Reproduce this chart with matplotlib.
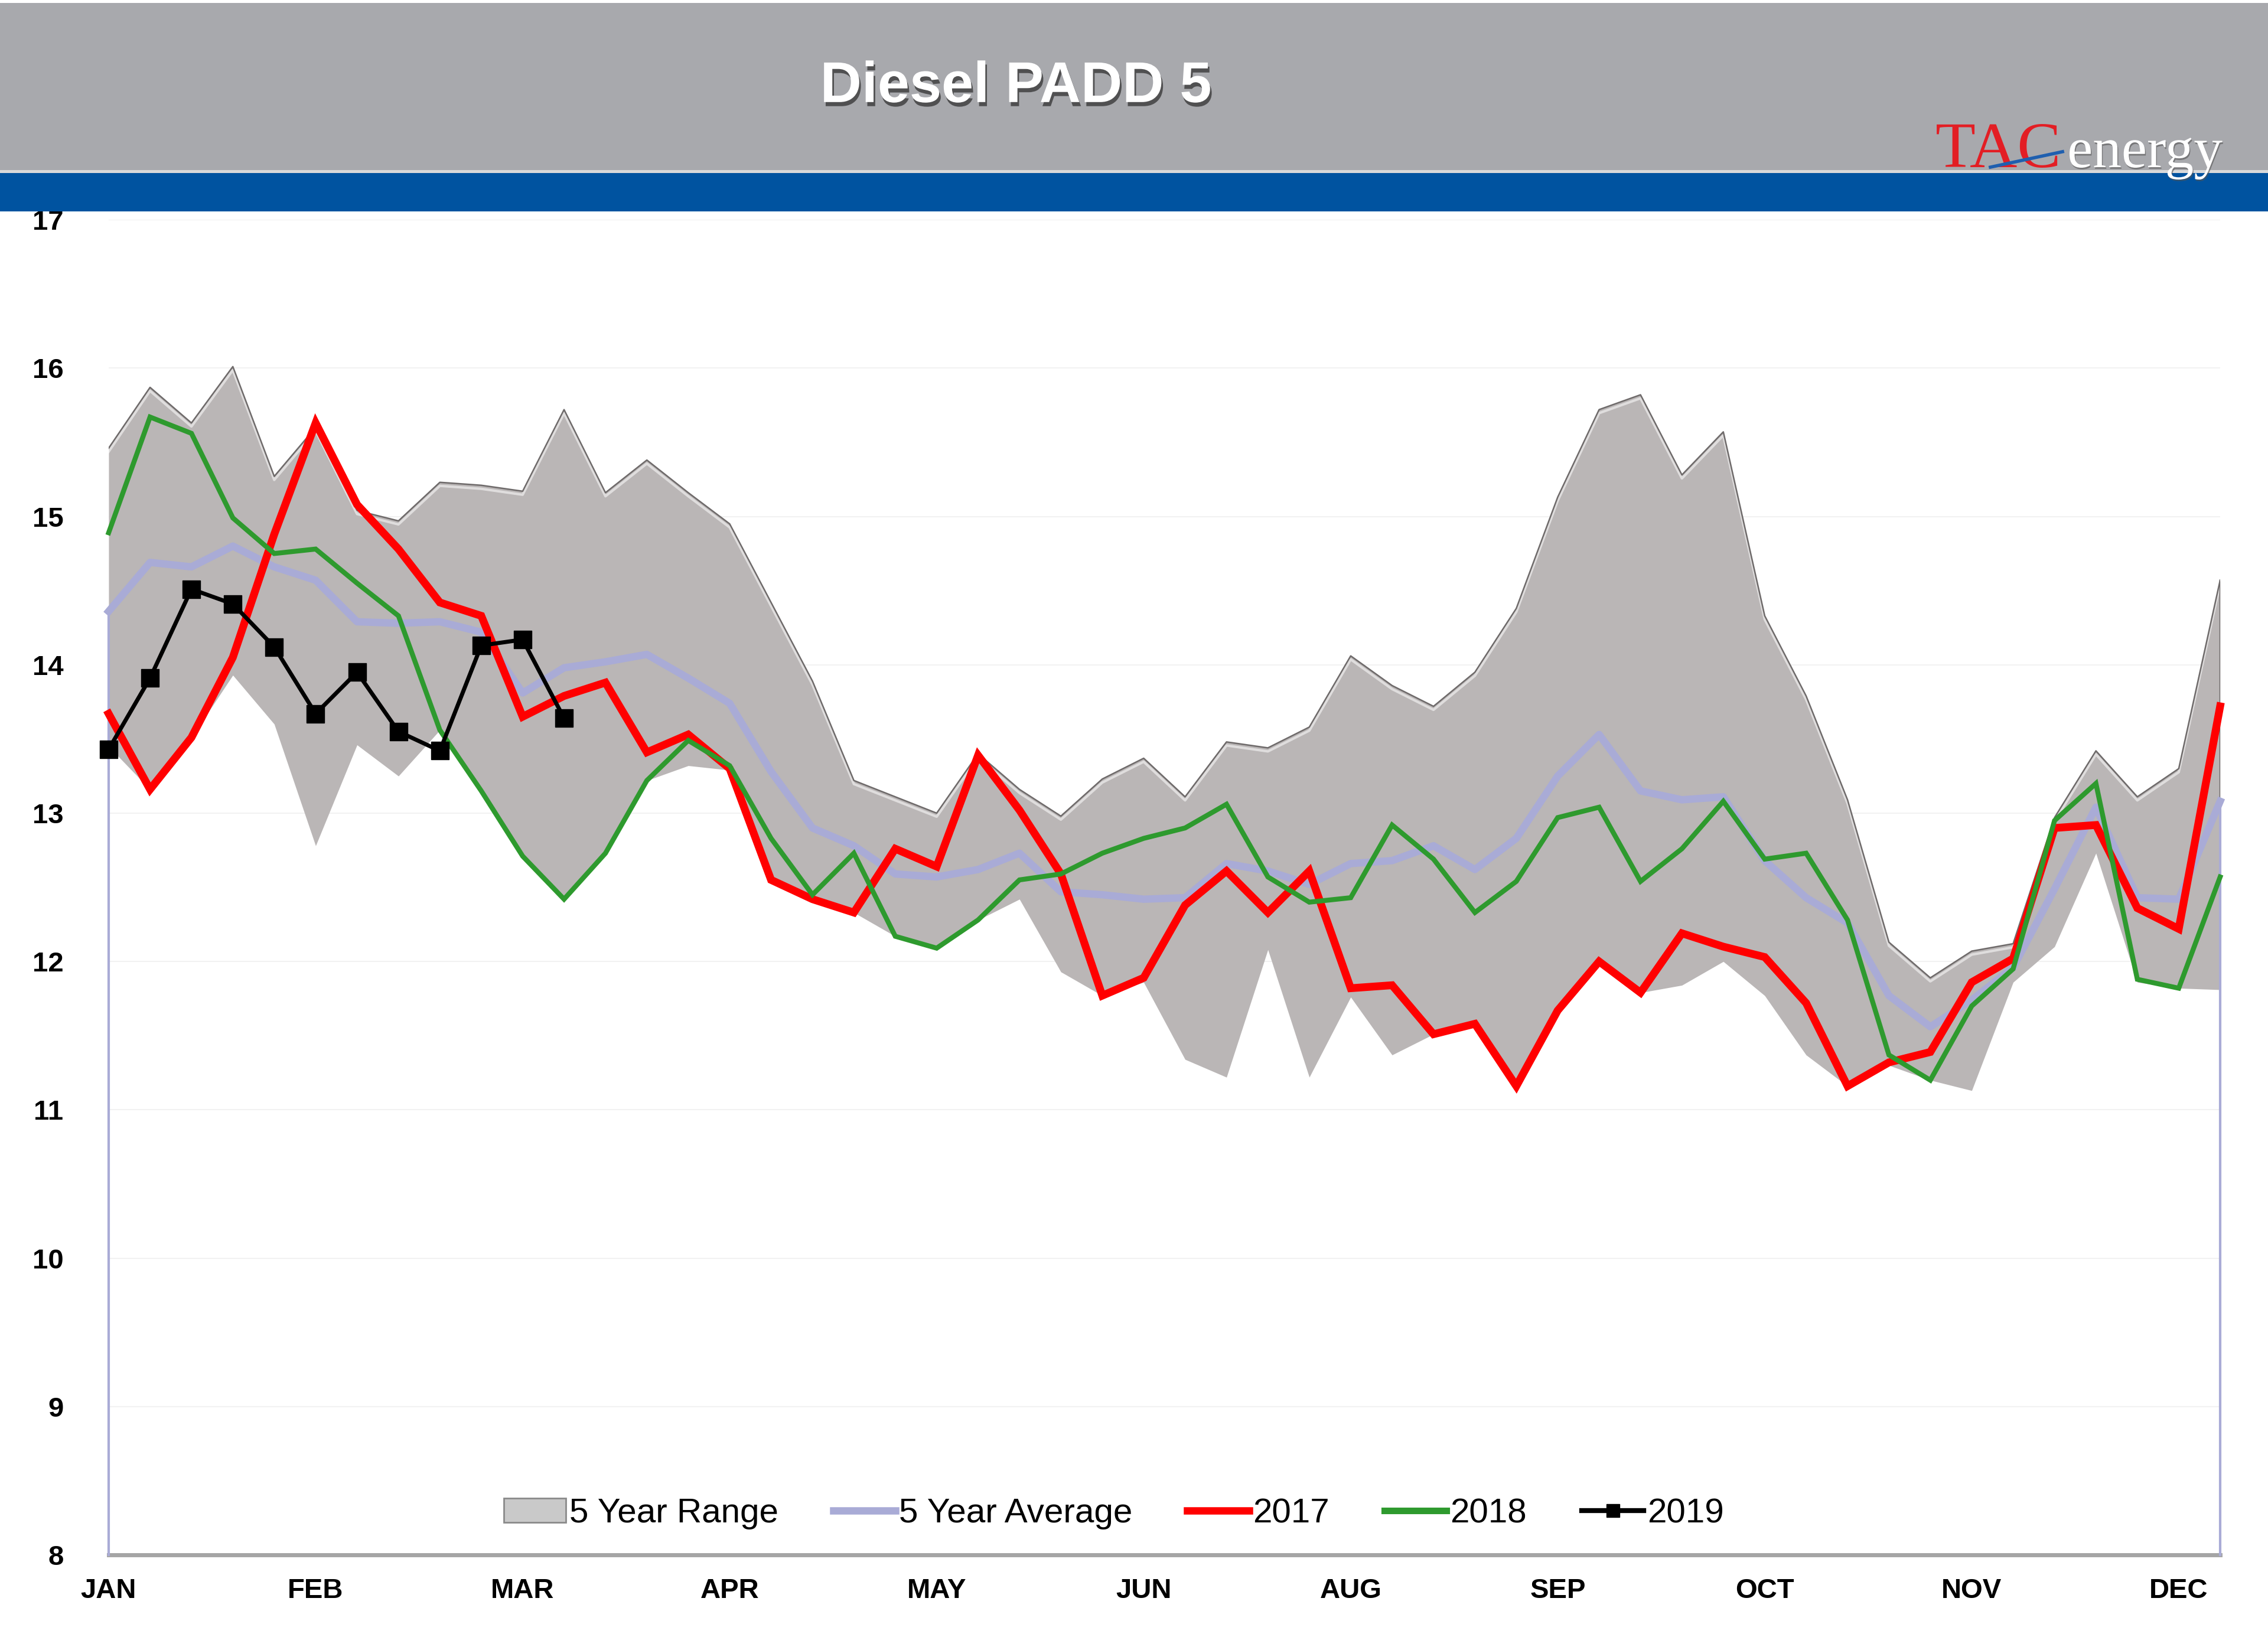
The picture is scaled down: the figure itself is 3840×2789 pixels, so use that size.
import matplotlib
matplotlib.use('Agg')
import matplotlib.pyplot as plt
import matplotlib.patheffects as pe
import matplotlib.transforms as mtransforms
from matplotlib.patches import Rectangle, Patch
from matplotlib.lines import Line2D

plt.rcParams['font.family'] = ['Liberation Sans', 'DejaVu Sans']

# ── Data (weekly, 52 weeks) ─────────────────────────────────
weeks = list(range(52))
month_labels = ['JAN', 'FEB', 'MAR', 'APR', 'MAY', 'JUN', 'AUG', 'SEP', 'OCT', 'NOV', 'DEC']
month_pos = list(range(0, 51, 5))
y_ticks = list(range(8, 18))

range_hi = [15.46, 15.87, 15.63, 16.01, 15.27, 15.60, 15.04, 14.97, 15.23, 15.21, 15.17, 15.72, 15.16,
            15.38, 15.16, 14.95, 14.42, 13.89, 13.22, 13.11, 13.00, 13.40, 13.16, 12.98, 13.23, 13.37,
            13.11, 13.48, 13.44, 13.58, 14.06, 13.86, 13.72, 13.95, 14.38, 15.13, 15.72, 15.82, 15.28,
            15.57, 14.33, 13.79, 13.09, 12.13, 11.89, 12.07, 12.12, 12.97, 13.42, 13.11, 13.30, 14.57]
range_lo = [13.45, 13.16, 13.51, 13.93, 13.60, 12.78, 13.46, 13.25, 13.56, 13.15, 12.71, 12.42, 12.73,
            13.22, 13.32, 13.29, 12.55, 12.42, 12.33, 12.17, 12.09, 12.28, 12.42, 11.93, 11.77, 11.86,
            11.34, 11.22, 12.08, 11.22, 11.76, 11.37, 11.51, 11.58, 11.16, 11.67, 11.98, 11.79, 11.84,
            12.00, 11.77, 11.37, 11.16, 11.30, 11.20, 11.13, 11.86, 12.10, 12.73, 11.86, 11.82, 11.81]
avg5 = [14.36, 14.69, 14.66, 14.80, 14.66, 14.57, 14.29, 14.28, 14.29, 14.22, 13.81, 13.98, 14.02,
        14.07, 13.91, 13.74, 13.28, 12.90, 12.78, 12.59, 12.57, 12.62, 12.73, 12.47, 12.45, 12.42,
        12.43, 12.66, 12.61, 12.52, 12.66, 12.68, 12.78, 12.62, 12.83, 13.25, 13.53, 13.15, 13.09,
        13.11, 12.68, 12.43, 12.26, 11.77, 11.56, 11.74, 11.96, 12.49, 13.04, 12.43, 12.42, 13.08]
y2017 = [13.67, 13.16, 13.51, 14.05, 14.88, 15.63, 15.08, 14.78, 14.42, 14.33, 13.65, 13.79, 13.88,
         13.41, 13.53, 13.30, 12.55, 12.42, 12.33, 12.76, 12.64, 13.39, 13.02, 12.59, 11.77, 11.89,
         12.38, 12.61, 12.33, 12.61, 11.82, 11.84, 11.51, 11.58, 11.16, 11.67, 12.00, 11.79, 12.19,
         12.10, 12.03, 11.72, 11.16, 11.32, 11.39, 11.86, 12.02, 12.90, 12.92, 12.36, 12.22, 13.72]
y2018 = [14.89, 15.67, 15.56, 14.99, 14.75, 14.78, 14.55, 14.33, 13.56, 13.15, 12.71, 12.42, 12.73,
         13.22, 13.49, 13.32, 12.83, 12.45, 12.73, 12.17, 12.09, 12.28, 12.55, 12.59, 12.73, 12.83,
         12.90, 13.06, 12.57, 12.40, 12.43, 12.92, 12.69, 12.33, 12.54, 12.97, 13.04, 12.54, 12.76,
         13.08, 12.69, 12.73, 12.28, 11.37, 11.20, 11.70, 11.95, 12.95, 13.20, 11.88, 11.82, 12.57]
y2019 = [13.43, 13.91, 14.51, 14.41, 14.12, 13.67, 13.95, 13.55, 13.42, 14.13, 14.17, 13.64]

# ── Figure / header ─────────────────────────────────────────
fig = plt.figure(figsize=(38.4, 27.89), dpi=100)
fig.patch.set_facecolor('white')

H = 2789.0
fig.add_artist(Rectangle((0, 1 - 288 / H), 1, 283 / H, transform=fig.transFigure,
                         facecolor='#A8A9AD', edgecolor='none', zorder=20))
fig.add_artist(Rectangle((0, 1 - 293 / H), 1, 5 / H, transform=fig.transFigure,
                         facecolor='#D9D9D9', edgecolor='none', zorder=20))
fig.add_artist(Rectangle((0, 1 - 358 / H), 1, 65 / H, transform=fig.transFigure,
                         facecolor='#0053A0', edgecolor='none', zorder=20))

fig.text(0.448, 0.947, 'Diesel PADD 5', ha='center', va='center', fontsize=70,
         fontweight='bold', color='white', zorder=25,
         path_effects=[pe.withSimplePatchShadow(offset=(2, -5), shadow_rgbFace='#3A3A3A', alpha=0.8)])

# logo
fig.text(0.8534, 0.8985, 'TAC', ha='left', va='baseline', fontsize=80,
         family='Liberation Serif', color='#E31E24', zorder=25)
fig.text(0.9115, 0.8985, 'energy', ha='left', va='baseline', fontsize=70,
         family='Liberation Serif', color='white', zorder=25,
         path_effects=[pe.withSimplePatchShadow(offset=(1, -2), shadow_rgbFace='#555555', alpha=0.6)])
fig.add_artist(Line2D([0.8776, 0.9094], [0.8985, 0.9079], transform=fig.transFigure,
                      color='#1F5FAF', lw=4, zorder=26))

# ── Plot area ───────────────────────────────────────────────
ax = fig.add_axes([0.0479, 0.0559, 0.9310, 0.8107])
ax.set_xlim(0, 51)
ax.set_ylim(8, 17)

for y in y_ticks:
    ax.axhline(y, color='#F2F2F2', lw=1.5, zorder=0)

# 5 year range
ax.fill_between(weeks, range_lo, range_hi, color='#BAB6B6', lw=0, zorder=1)
shift = mtransforms.offset_copy(ax.transData, fig=fig, x=0, y=-6, units='dots')
ax.plot(weeks, range_hi, color='white', lw=3, alpha=0.55, transform=shift, zorder=1.2)
ax.plot(weeks, range_hi, color='#6E6A6A', lw=1.8, zorder=1.5)
ax.plot([weeks[-1], weeks[-1]], [range_lo[-1], range_hi[-1]], color='#6E6A6A', lw=2.5, zorder=1.5)

# 5 year average + drop lines at the ends
ax.plot([weeks[0], weeks[0]], [8, avg5[0]], color='#A9ABD6', lw=3, zorder=2, clip_on=False)
ax.plot([weeks[-1], weeks[-1]], [8, avg5[-1]], color='#A9ABD6', lw=3, zorder=2, clip_on=False)
ax.plot(weeks, avg5, color='#A9ABD6', lw=9, zorder=3, solid_joinstyle='round', clip_on=False)

ax.plot(weeks, y2017, color='#FF0000', lw=9.5, zorder=4, solid_joinstyle='miter', clip_on=False)
ax.plot(weeks, y2018, color='#2E9A2E', lw=6, zorder=5, solid_joinstyle='miter', clip_on=False)
ax.plot(weeks[:len(y2019)], y2019, color='black', lw=5, marker='s', markersize=21,
        zorder=6, clip_on=False)

# axes styling
for side in ['top', 'right', 'left']:
    ax.spines[side].set_visible(False)
ax.spines['bottom'].set_color('#A5A5A5')
ax.spines['bottom'].set_linewidth(5)
ax.spines['bottom'].set_zorder(0.5)

ax.set_xticks(month_pos)
ax.set_xticklabels(month_labels, fontsize=34, fontweight='bold')
ax.set_yticks(y_ticks)
ax.set_yticklabels([str(v) for v in y_ticks], fontsize=34, fontweight='bold')
ax.tick_params(axis='x', length=0, pad=28)
ax.tick_params(axis='y', length=0, pad=55)

# legend
handles = [
    Patch(facecolor='#C9C9C9', edgecolor='#8A8A8A', lw=2),
    Line2D([], [], color='#A9ABD6', lw=9),
    Line2D([], [], color='#FF0000', lw=9),
    Line2D([], [], color='#2E9A2E', lw=8),
    Line2D([], [], color='black', lw=6, marker='s', markersize=16),
]
labels = ['5 Year Range', '5 Year Average', '2017', '2018', '2019']
ax.legend(handles, labels, loc='center', bbox_to_anchor=(0.476, 0.031), ncol=5,
          frameon=False, fontsize=42, handlelength=1.8, handletextpad=0.1,
          columnspacing=1.6)

plt.savefig('out.png', dpi=100, facecolor='white')
